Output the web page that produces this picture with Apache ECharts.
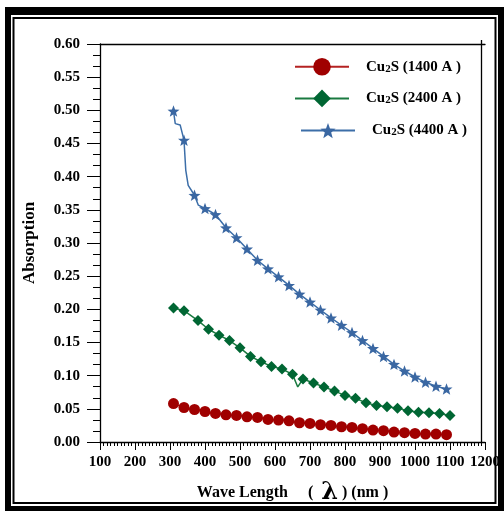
<!DOCTYPE html>
<html><head><meta charset="utf-8">
<script src="https://cdn.jsdelivr.net/npm/echarts@6/dist/echarts.min.js"></script>
<style>html,body{margin:0;padding:0;background:#fff}#c{width:504px;height:511px}</style>
</head><body><div id="c"></div>
<script>
// ---- data ----
const xTicks = [100,200,300,400,500,600,700,800,900,1000,1100,1200];
const yTicks = [0.00,0.05,0.10,0.15,0.20,0.25,0.30,0.35,0.40,0.45,0.50,0.55,0.60];

const names = ['Cu2S (1400 A )','Cu2S (2400 A )','Cu2S (4400 A )'];

const wl1400 = [310,340,370,400,430,460,490,520,550,580,610,640,670,700,730,760,790,820,850,880,910,940,970,1000,1030,1060,1090];
const abs1400 = [0.058,0.052,0.049,0.046,0.043,0.041,0.040,0.038,0.037,0.034,0.033,0.032,0.029,0.028,0.026,0.025,0.023,0.022,0.020,0.018,0.017,0.015,0.014,0.013,0.012,0.012,0.011];
const unmarked1400 = [];

const wl2400 = [310,340,380,410,440,470,500,530,560,590,620,650,665,680,710,740,770,800,830,860,890,920,950,980,1010,1040,1070,1100];
const abs2400 = [0.202,0.198,0.183,0.170,0.161,0.153,0.142,0.129,0.121,0.114,0.110,0.102,0.083,0.095,0.089,0.083,0.077,0.070,0.066,0.059,0.055,0.053,0.051,0.047,0.045,0.044,0.043,0.040];
const unmarked2400 = [665];

const wl4400 = [310,315,329,340,345,352,370,381,400,430,460,490,520,550,580,610,640,670,700,730,760,790,820,850,880,910,940,970,1000,1030,1060,1090];
const abs4400 = [0.499,0.480,0.478,0.455,0.410,0.387,0.372,0.357,0.352,0.343,0.323,0.308,0.291,0.274,0.261,0.249,0.236,0.223,0.211,0.199,0.187,0.176,0.165,0.153,0.141,0.129,0.117,0.107,0.098,0.090,0.084,0.080];
const unmarked4400 = [315,329,345,352,381];

// ---- styling ----
const FONT = 'Liberation Serif';
const STAR = 'path://M50 0 L62.34 33.01 L97.55 34.55 L69.97 56.49 L79.39 90.45 L50 71 L20.61 90.45 L30.03 56.49 L2.45 34.55 L37.66 33.01 Z';

function build(xs, ys, unmarked) {
  return xs.map((x, i) => unmarked.indexOf(x) >= 0
    ? { value: [x, ys[i]], symbol: 'none' }
    : { value: [x, ys[i]] });
}

const legendText = {
  fontFamily: FONT, fontWeight: 'bold', fontSize: 15, color: '#000',
  rich: {
    g: { width: 12, fontSize: 15 },
    a: { fontFamily: FONT, fontWeight: 'bold', fontSize: 15, color: '#000' },
    s: { fontFamily: FONT, fontWeight: 'bold', fontSize: 11, color: '#000', verticalAlign: 'bottom' }
  }
};
const legendFmt = n => '{g| }{a|Cu}{s|2}{a|' + n.slice(3) + '}';

const chart = echarts.init(document.getElementById('c'), null, { renderer: 'canvas' });
chart.setOption({
  backgroundColor: '#fff',
  animation: false,
  graphic: [
    { type: 'rect', z: -10, silent: true, shape: { x: 5, y: 7, width: 499, height: 504 }, style: { fill: '#000' } },
    { type: 'rect', z: -9, silent: true, shape: { x: 11, y: 15, width: 487, height: 491 }, style: { fill: '#fff' } },
    { type: 'rect', z: -8, silent: true, shape: { x: 13.5, y: 18, width: 482, height: 485 }, style: { fill: 'none', stroke: '#000', lineWidth: 2 } },
    { type: 'line', z: 5, silent: true, shape: { x1: 481.5, y1: 40, x2: 481.5, y2: 442 }, style: { stroke: '#000', lineWidth: 1.3 } }
  ],
  grid: { left: 100, right: 19, top: 44, bottom: 69, containLabel: false },
  legend: [
    { data: [names[0], names[1]], orient: 'vertical', left: 289, top: 53, itemWidth: 54, itemHeight: 22, itemGap: 14,
      textStyle: legendText, formatter: legendFmt },
    { data: [names[2]], orient: 'vertical', left: 295, top: 118, itemWidth: 54, itemHeight: 19,
      textStyle: legendText, formatter: legendFmt }
  ],
  xAxis: [
    { type: 'value', min: xTicks[0], max: xTicks[xTicks.length - 1], interval: 100,
      axisLine: { show: true, lineStyle: { color: '#000', width: 1.3 } },
      axisTick: { show: true, inside: false, length: 8, lineStyle: { color: '#000', width: 1 } },
      minorTick: { show: true, splitNumber: 10, length: 4, lineStyle: { color: '#000', width: 1 } },
      splitLine: { show: false },
      axisLabel: { margin: 13, color: '#000', fontFamily: FONT, fontWeight: 'bold', fontSize: 15,
        formatter: v => String(v) },
      name: 'Wave Length     (  {l|λ} ) (nm )', nameLocation: 'middle', nameGap: 39,
      nameTextStyle: { color: '#000', fontFamily: FONT, fontWeight: 'bold', fontSize: 16,
        rich: { l: { fontFamily: 'DejaVu Serif', fontWeight: 'bold', fontSize: 24, color: '#000' } } } },
    { type: 'value', position: 'top', min: xTicks[0], max: xTicks[xTicks.length - 1],
      axisLine: { show: true, lineStyle: { color: '#000', width: 1.3 } },
      axisTick: { show: false }, axisLabel: { show: false }, splitLine: { show: false } }
  ],
  yAxis: {
    type: 'value', min: yTicks[0], max: yTicks[yTicks.length - 1], interval: 0.05,
    axisLine: { show: true, lineStyle: { color: '#000', width: 1.3 } },
    axisTick: { show: true, inside: false, length: 13, lineStyle: { color: '#000', width: 1 } },
    minorTick: { show: true, splitNumber: 3, length: 7, lineStyle: { color: '#000', width: 1 } },
    splitLine: { show: false },
    axisLabel: { margin: 20, color: '#000', fontFamily: FONT, fontWeight: 'bold', fontSize: 15,
      formatter: v => v.toFixed(2) },
    name: 'Absorption', nameLocation: 'middle', nameGap: 62, nameRotate: 90,
    nameTextStyle: { color: '#000', fontFamily: FONT, fontWeight: 'bold', fontSize: 17 }
  },
  series: [
    { name: names[0], type: 'line', data: build(wl1400, abs1400, unmarked1400),
      symbol: 'circle', symbolSize: 11,
      lineStyle: { color: '#B52222', width: 1.5 }, itemStyle: { color: '#A00000' }, z: 3 },
    { name: names[1], type: 'line', data: build(wl2400, abs2400, unmarked2400),
      symbol: 'diamond', symbolSize: 11,
      lineStyle: { color: '#1A7A40', width: 1.5 }, itemStyle: { color: '#006633' }, z: 3 },
    { name: names[2], type: 'line', data: build(wl4400, abs4400, unmarked4400),
      symbol: STAR, symbolSize: 12, symbolKeepAspect: true,
      lineStyle: { color: '#3C6EA8', width: 1.5 }, itemStyle: { color: '#3A67A2' }, z: 3 }
  ]
});
</script>
</body></html>
